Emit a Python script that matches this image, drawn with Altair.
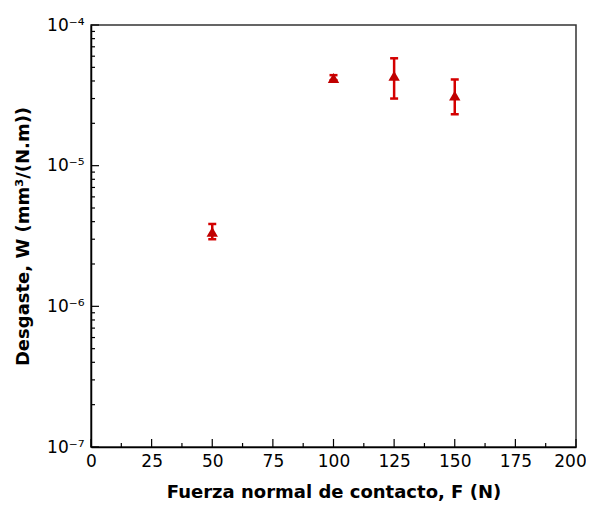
import altair as alt
import pandas as pd

F = [50, 100, 125, 150]
W = [3.38e-6, 4.2e-5, 4.35e-5, 3.15e-5]
W_lo = [3.0e-6, 4.05e-5, 3.0e-5, 2.32e-5]
W_hi = [3.85e-6, 4.4e-5, 5.8e-5, 4.1e-5]

x_major = [0, 25, 50, 75, 100, 125, 150, 175, 200]
x_minor = [12.5, 37.5, 62.5, 87.5, 112.5, 137.5, 162.5, 187.5]
y_major = [1e-7, 1e-6, 1e-5, 1e-4]
y_minor = [k * 10.0 ** d for d in (-7, -6, -5) for k in range(2, 10)]

df = pd.DataFrame({"F": F, "W": W, "lo": W_lo, "hi": W_hi})

FONT = "DejaVu Sans"
W_PX, H_PX = 485, 422
xs = alt.Scale(domain=[0, 200], nice=False, zero=False)
ys = alt.Scale(type="log", domain=[1e-7, 1e-4], nice=False)

label_expr = ("'10' + (datum.value > 5e-5 ? '⁻⁴' : datum.value > 5e-6 ? '⁻⁵' : "
              "datum.value > 5e-7 ? '⁻⁶' : '⁻⁷')")

x_main = alt.Axis(orient="bottom", values=x_major, ticks=False, grid=False,
                  labelFlush=False, domainColor="black", domainWidth=1.5,
                  labelFont=FONT, labelFontSize=17, labelColor="black", labelPadding=6,
                  labelOffset={"condition": {"test": "datum.value >= 200", "value": -6},
                               "value": 0},
                  title="Fuerza normal de contacto, F (N)",
                  titleFont=FONT, titleFontSize=18, titleFontWeight="bold",
                  titleColor="black", titlePadding=14)
y_main = alt.Axis(orient="left", values=y_major, ticks=False, grid=False,
                  labelFlush=False, domainColor="black", domainWidth=1.5,
                  labelFont=FONT, labelFontSize=17, labelColor="black", labelPadding=7,
                  labelExpr=label_expr,
                  title="Desgaste, W (mm³/(N.m))", titleFont=FONT, titleFontSize=18,
                  titleFontWeight="bold", titleColor="black", titlePadding=14)

base = alt.Chart(df)
RED = "#d40000"

rules = base.mark_rule(color=RED, strokeWidth=2.5).encode(
    x=alt.X("F:Q", scale=xs, axis=x_main),
    y=alt.Y("lo:Q", scale=ys, axis=y_main),
    y2="hi:Q",
)
caps_lo = base.mark_tick(color=RED, orient="horizontal", size=8, thickness=2.5,
                         opacity=1).encode(
    x=alt.X("F:Q", scale=xs), y=alt.Y("lo:Q", scale=ys))
caps_hi = base.mark_tick(color=RED, orient="horizontal", size=8, thickness=2.5,
                         opacity=1).encode(
    x=alt.X("F:Q", scale=xs), y=alt.Y("hi:Q", scale=ys))
pts = base.mark_point(shape="triangle-up", filled=True, color="#c00000", opacity=1,
                      size=130).encode(
    x=alt.X("F:Q", scale=xs), y=alt.Y("W:Q", scale=ys))


def yticks(vals, length):
    return alt.Chart(pd.DataFrame({"v": vals})).mark_rule(
        color="black", strokeWidth=1.2).encode(
        y=alt.Y("v:Q", scale=ys), x=alt.value(0), x2=alt.value(length))


def xticks(vals, length):
    return alt.Chart(pd.DataFrame({"v": vals})).mark_rule(
        color="black", strokeWidth=1.2).encode(
        x=alt.X("v:Q", scale=xs), y=alt.value(H_PX), y2=alt.value(H_PX - length))


chart = alt.layer(
    rules, yticks(y_minor, 4), yticks(y_major, 8), xticks(x_minor, 4), xticks(x_major, 8),
    caps_lo, caps_hi, pts,
).properties(
    width=W_PX, height=H_PX,
    autosize=alt.AutoSizeParams(type="none"),
    padding={"left": 83, "top": 17, "right": 10, "bottom": 54},
).configure_view(stroke="#333333", strokeWidth=1.5)

chart.save("out.html", embed_options={"renderer": "svg", "actions": False})
